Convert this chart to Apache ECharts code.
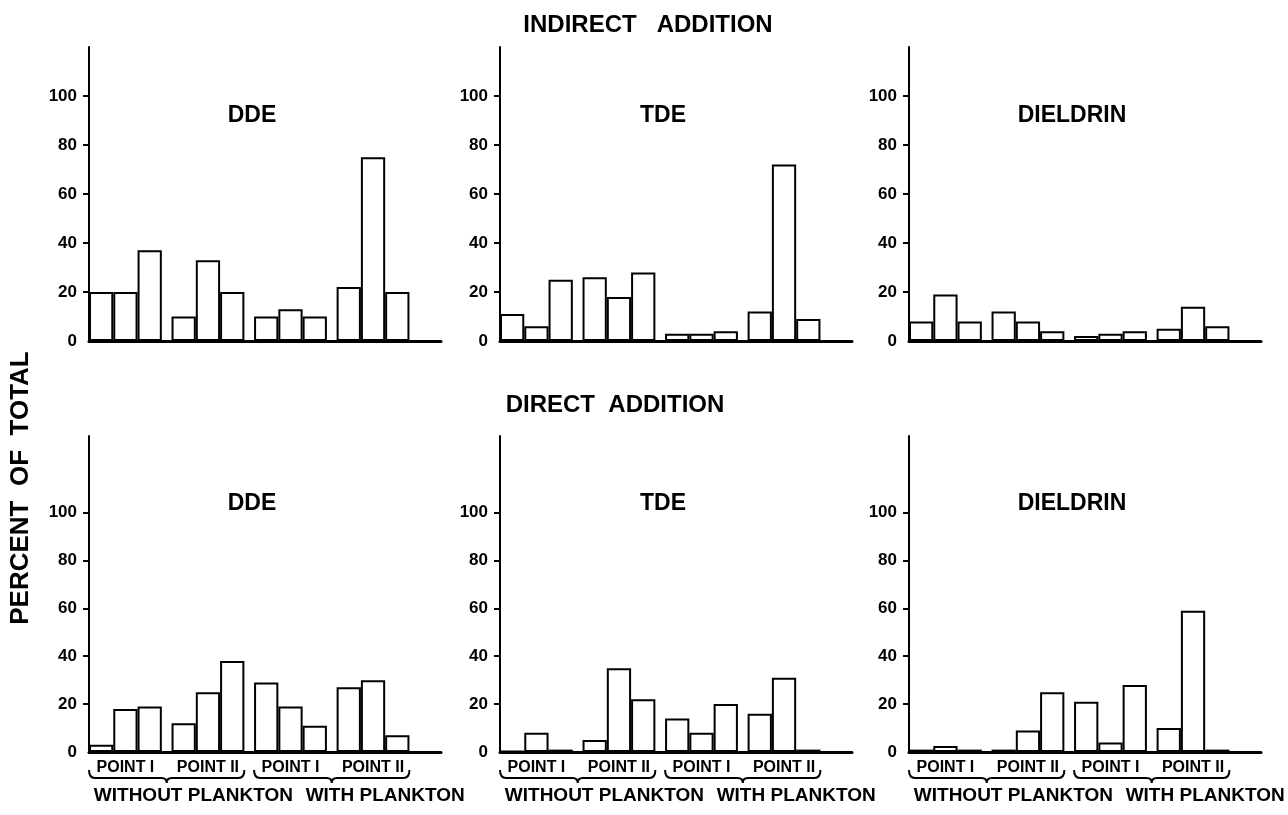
<!DOCTYPE html>
<html>
<head>
<meta charset="utf-8">
<script src="https://cdn.jsdelivr.net/npm/echarts@6/dist/echarts.min.js"></script>
<style>
  html, body { margin: 0; padding: 0; background: #fff; }
  #main { width: 1288px; height: 815px; }
</style>
</head>
<body>
<div id="main"></div>
<script>
// bar order in every panel: POINT I, POINT II (without plankton), POINT I, POINT II (with plankton), 3 bars each
const compounds = ["DDE", "TDE", "DIELDRIN"];
const pointLabels = ["POINT I", "POINT II", "POINT I", "POINT II"];
const planktonLabels = ["WITHOUT PLANKTON", "WITH PLANKTON"];
const yTickValues = [0, 20, 40, 60, 80, 100];

const indirectDDE = [20, 20, 37, 10, 33, 20, 10, 13, 10, 22, 75, 20];
const indirectTDE = [11, 6, 25, 26, 18, 28, 3, 3, 4, 12, 72, 9];
const indirectDieldrin = [8, 19, 8, 12, 8, 4, 2, 3, 4, 5, 14, 6];

const directDDE = [3, 18, 19, 12, 25, 38, 29, 19, 11, 27, 30, 7];
const directTDE = [0.5, 8, 1, 5, 35, 22, 14, 8, 20, 16, 31, 1];
const directDieldrin = [1, 2.5, 1, 1, 9, 25, 21, 4, 28, 10, 59, 1];

const rows = [
  [indirectDDE, indirectTDE, indirectDieldrin],
  [directDDE, directTDE, directDieldrin]
];

// layout
const FONT = "Liberation Sans";
const colLeft = [89, 500, 909];
const rowTop = [47, 436];
const rowHeight = [294, 316];
const yMax = [120, 132];
const gridWidth = 352;
const xMax = 14.5;
const groupStride = 3.4; // 3 bars + small gap
const titleTop = [99, 487];

const barX = (i) => Math.floor(i / 3) * groupStride + (i % 3) + 0.5;
const groupCenters = pointLabels.map((_, g) => g * groupStride + 1.5);
const braceSpans = [[0, groupStride + 3], [2 * groupStride, 3 * groupStride + 3]];
const planktonPos = [4.3, 12.2];

const findLabel = (list, pos) => (v) => {
  const idx = pos.findIndex((p) => Math.abs(p - v) < 1e-6);
  return idx >= 0 ? list[idx] : "";
};

const chart = echarts.init(document.getElementById("main"));

const grid = [], xAxis = [], yAxis = [], series = [], title = [];

rows.forEach((panels, r) => {
  panels.forEach((values, c) => {
    const k = grid.length;
    grid.push({ left: colLeft[c], top: rowTop[r], width: gridWidth, height: rowHeight[r], outerBoundsMode: "none" });

    yAxis.push({
      gridIndex: k, type: "value", min: 0, max: yMax[r],
      axisLine: { show: true, lineStyle: { color: "#000", width: 2 } },
      axisTick: { show: true, length: 6, customValues: yTickValues.slice(1), lineStyle: { color: "#000", width: 2 } },
      axisLabel: { customValues: yTickValues, margin: 12, color: "#000", fontSize: 17, fontWeight: "bold", fontFamily: FONT },
      splitLine: { show: false }
    });

    const barAxis = xAxis.length;
    xAxis.push({
      gridIndex: k, type: "value", min: 0, max: xMax,
      axisLine: { show: true, onZero: false, lineStyle: { color: "#000", width: 3 } },
      axisTick: { show: false }, axisLabel: { show: false }, splitLine: { show: false }
    });

    series.push({
      type: "bar",
      xAxisIndex: barAxis, yAxisIndex: k,
      barWidth: gridWidth / xMax,
      itemStyle: { color: "#fff", borderColor: "#000", borderWidth: 2 },
      data: values.map((v, i) => [barX(i), v]),
      animation: false
    });

    if (r === 1) {
      xAxis.push({
        gridIndex: k, type: "value", min: 0, max: xMax, position: "bottom",
        axisLine: { show: false }, axisTick: { show: false }, splitLine: { show: false },
        axisLabel: { customValues: groupCenters, formatter: findLabel(pointLabels, groupCenters),
          margin: 8, color: "#000", fontSize: 16, fontWeight: "bold", fontFamily: FONT }
      });
      xAxis.push({
        gridIndex: k, type: "value", min: 0, max: xMax, position: "bottom",
        axisLine: { show: false }, axisTick: { show: false }, splitLine: { show: false },
        axisLabel: { customValues: planktonPos, formatter: findLabel(planktonLabels, planktonPos),
          margin: 34, color: "#000", fontSize: 19, fontWeight: "bold", fontFamily: FONT }
      });
      // braces under each pair of groups
      series.push({
        type: "custom",
        xAxisIndex: barAxis, yAxisIndex: k,
        silent: true, clip: false, animation: false,
        encode: { x: [0, 1] },
        data: braceSpans,
        renderItem: (params, api) => {
          const p0 = api.coord([api.value(0), 0]);
          const p1 = api.coord([api.value(1), 0]);
          const x0 = p0[0], x1 = p1[0], xm = (x0 + x1) / 2;
          const y = p0[1] + 26;
          return {
            type: "path",
            shape: {
              pathData: `M${x0} ${y - 8} Q${x0} ${y} ${x0 + 6} ${y} L${xm - 5} ${y} Q${xm} ${y} ${xm} ${y + 5} ` +
                        `Q${xm} ${y} ${xm + 5} ${y} L${x1 - 6} ${y} Q${x1} ${y} ${x1} ${y - 8}`
            },
            style: { fill: null, stroke: "#000", lineWidth: 2 }
          };
        }
      });
    }

    title.push({
      text: compounds[c],
      left: colLeft[c] + 158, top: titleTop[r], textAlign: "center",
      textStyle: { color: "#000", fontSize: 23, fontWeight: "bold", fontFamily: FONT }
    });
  });
});

chart.setOption({
  backgroundColor: "#fff",
  animation: false,
  title: title,
  grid: grid,
  xAxis: xAxis,
  yAxis: yAxis,
  series: series,
  graphic: [
    { type: "text", x: 648, y: 25,
      style: { text: "INDIRECT   ADDITION", fill: "#000", fontSize: 24, fontWeight: "bold", fontFamily: FONT, align: "center", verticalAlign: "middle" } },
    { type: "text", x: 615, y: 405,
      style: { text: "DIRECT  ADDITION", fill: "#000", fontSize: 24, fontWeight: "bold", fontFamily: FONT, align: "center", verticalAlign: "middle" } },
    { type: "text", x: 21, y: 488, rotation: Math.PI / 2,
      style: { text: "PERCENT  OF  TOTAL", fill: "#000", fontSize: 26, fontWeight: "bold", fontFamily: FONT, align: "center", verticalAlign: "middle" } }
  ]
});
</script>
</body>
</html>
